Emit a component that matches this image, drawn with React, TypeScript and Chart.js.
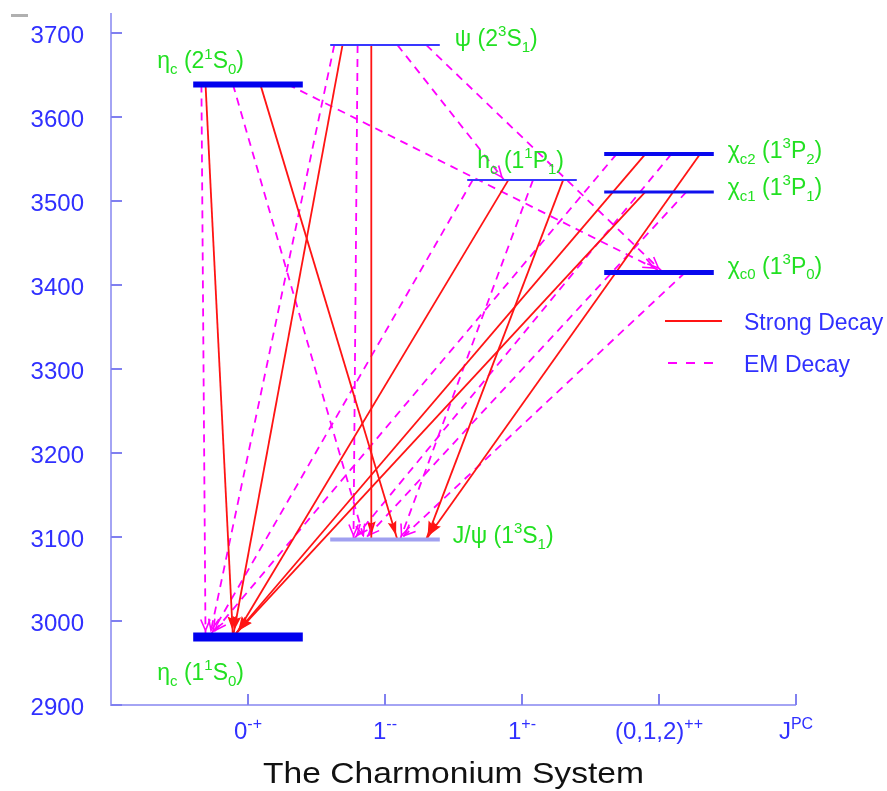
import React, { useEffect, useRef } from 'react';
import { Chart, registerables } from 'chart.js';

Chart.register(...registerables);

// ---------------- data ----------------
const levelLabels = [
  'η_{c} (1^{1}S_{0})',
  'J/ψ (1^{3}S_{1})',
  'χ_{c0} (1^{3}P_{0})',
  'χ_{c1} (1^{3}P_{1})',
  'h_{c} (1^{1}P_{1})',
  'χ_{c2} (1^{3}P_{2})',
  'η_{c} (2^{1}S_{0})',
  'ψ (2^{3}S_{1})',
];
const levelMass = [2981, 3097, 3415, 3511, 3525, 3556, 3639, 3686];
const levelJpc = [1, 2, 4, 4, 3, 4, 1, 2];

const jpcTickValues = [1, 2, 3, 4, 5];
const jpcTickLabels = ['0^{-+}', '1^{--}', '1^{+-}', '(0,1,2)^{++}', 'J^{PC}'];
const massTicks = [2900, 3000, 3100, 3200, 3300, 3400, 3500, 3600, 3700];
const massAxisMin = 2900;
const massAxisMax = 3724;
const jpcAxisMin = 0;
const jpcAxisMax = 5;

// strong decays (solid red): from level, x at start, to level, x at end
const strongFrom = [6, 6, 7, 7, 4, 4, 5, 3, 5];
const strongFromX = [0.69, 1.09, 1.69, 1.9, 2.9, 3.3, 3.9, 3.9, 4.3];
const strongTo = [0, 1, 0, 1, 0, 1, 0, 0, 1];
const strongToX = [0.89, 2.09, 0.89, 1.9, 0.9, 2.3, 0.89, 0.89, 2.3];

// EM decays (dashed magenta)
const emFrom = [6, 6, 6, 7, 7, 7, 7, 4, 4, 5, 5, 3, 2];
const emFromX = [0.66, 0.89, 1.29, 1.63, 1.8, 2.09, 2.3, 2.64, 3.08, 3.69, 4.09, 4.2, 4.19];
const emTo = [0, 1, 2, 0, 1, 4, 2, 0, 1, 0, 1, 1, 1];
const emToX = [0.69, 1.85, 4.03, 0.72, 1.77, 2.87, 4.03, 0.72, 2.11, 0.72, 1.77, 1.85, 2.11];

const legendLabels = ['Strong Decay', 'EM Decay'];
const titleText = 'The Charmonium System';

// ---------------- styles ----------------
const FONT = '"Liberation Sans", Arial, Helvetica, sans-serif';
const BLUE_TEXT = '#3030ff';
const GREEN = '#22e022';
const RED = '#ff1414';
const MAGENTA = '#ff00ff';
const DASH = [8, 6];
const levelHalfWidth = 0.4;
const levelColors = ['#0000ee', '#a0a0f0', '#0808ee', '#1010ee', '#3838ff', '#0808ee', '#0000ee', '#3838ff'];
const levelWidths = [9, 4, 5, 3, 2, 4, 6, 2];
// label anchor: side of level, dx, dy (px)
const labelAnchor: [string, number, number][] = [
  ['left', -36, 43],
  ['right', 13, 3],
  ['right', 14, 1],
  ['right', 14, 3],
  ['left', 10, -12],
  ['right', 14, 4],
  ['left', -36, -16],
  ['right', 15, 1],
];

type Part = { t: string; k: number };
function parseRich(s: string): Part[] {
  const out: Part[] = [];
  let i = 0;
  let buf = '';
  while (i < s.length) {
    const c = s[i];
    if ((c === '_' || c === '^') && s[i + 1] === '{') {
      if (buf) { out.push({ t: buf, k: 0 }); buf = ''; }
      const end = s.indexOf('}', i);
      out.push({ t: s.slice(i + 2, end), k: c === '^' ? 1 : -1 });
      i = end + 1;
    } else { buf += c; i++; }
  }
  if (buf) out.push({ t: buf, k: 0 });
  return out;
}

function drawRich(ctx: CanvasRenderingContext2D, s: string, x: number, y: number, size: number, align: string, color: string) {
  const parts = parseRich(s);
  const small = Math.round(size * 0.66);
  const widths = parts.map((p) => {
    ctx.font = `${p.k ? small : size}px ${FONT}`;
    return ctx.measureText(p.t).width;
  });
  const total = widths.reduce((a, b) => a + b, 0);
  let cx = align === 'center' ? x - total / 2 : x;
  ctx.fillStyle = color;
  ctx.textAlign = 'left';
  ctx.textBaseline = 'alphabetic';
  parts.forEach((p, i) => {
    ctx.font = `${p.k ? small : size}px ${FONT}`;
    const dy = p.k === 1 ? -size * 0.42 : p.k === -1 ? size * 0.26 : 0;
    ctx.fillText(p.t, cx, y + dy);
    cx += widths[i];
  });
}

const decorPlugin = {
  id: 'decor',
  beforeDatasetsDraw(chart: any) {
    const ctx: CanvasRenderingContext2D = chart.ctx;
    chart.data.datasets.forEach((ds: any, i: number) => {
      if (!ds.kind) return;
      const meta = chart.getDatasetMeta(i);
      const p0 = meta.data[0];
      const p1 = meta.data[1];
      const dx = p1.x - p0.x;
      const dy = p1.y - p0.y;
      const len = Math.hypot(dx, dy);
      const ux = dx / len;
      const uy = dy / len;
      const pull = (levelWidths[ds.toLevel] / 2 + 2) / Math.max(Math.abs(uy), 0.3);
      const tx = p1.x - ux * pull;
      const ty = p1.y - uy * pull;
      const ang = Math.atan2(uy, ux);
      ctx.save();
      if (ds.kind === 'strong') {
        const L = 15;
        const a = 0.3;
        ctx.fillStyle = RED;
        ctx.beginPath();
        ctx.moveTo(tx, ty);
        ctx.lineTo(tx - L * Math.cos(ang - a), ty - L * Math.sin(ang - a));
        ctx.lineTo(tx - L * 0.8 * Math.cos(ang), ty - L * 0.8 * Math.sin(ang));
        ctx.lineTo(tx - L * Math.cos(ang + a), ty - L * Math.sin(ang + a));
        ctx.closePath();
        ctx.fill();
      } else {
        const L = 12;
        const a = 0.4;
        ctx.strokeStyle = MAGENTA;
        ctx.lineWidth = 1.6;
        ctx.beginPath();
        ctx.moveTo(tx - L * Math.cos(ang - a), ty - L * Math.sin(ang - a));
        ctx.lineTo(tx, ty);
        ctx.lineTo(tx - L * Math.cos(ang + a), ty - L * Math.sin(ang + a));
        ctx.stroke();
      }
      ctx.restore();
    });
  },
  afterDraw(chart: any) {
    const ctx: CanvasRenderingContext2D = chart.ctx;
    const ca = chart.chartArea;
    const xs = chart.scales.x;
    const ys = chart.scales.y;
    ctx.save();
    // small grey mark top-left
    ctx.fillStyle = '#b0b0b0';
    ctx.fillRect(11, 14, 17, 3);
    // axes
    ctx.strokeStyle = '#a4a4f4';
    ctx.lineWidth = 2;
    ctx.beginPath();
    ctx.moveTo(ca.left, ca.top);
    ctx.lineTo(ca.left, ca.bottom);
    ctx.lineTo(ca.right, ca.bottom);
    ctx.stroke();
    ctx.strokeStyle = '#8080f0';
    ctx.beginPath();
    massTicks.forEach((v) => {
      const y = Math.round(ys.getPixelForValue(v));
      ctx.moveTo(ca.left, y);
      ctx.lineTo(ca.left + 11, y);
    });
    jpcTickValues.forEach((v) => {
      const x = Math.round(xs.getPixelForValue(v));
      ctx.moveTo(x, ca.bottom);
      ctx.lineTo(x, ca.bottom - 11);
    });
    ctx.stroke();
    // x tick labels
    jpcTickValues.forEach((v, i) => {
      drawRich(ctx, jpcTickLabels[i], xs.getPixelForValue(v), ca.bottom + 34, 24, 'center', BLUE_TEXT);
    });
    // level labels
    levelLabels.forEach((lab, i) => {
      const [side, dx, dy] = labelAnchor[i];
      const xv = side === 'left' ? levelJpc[i] - levelHalfWidth : levelJpc[i] + levelHalfWidth;
      const x = xs.getPixelForValue(xv) + dx;
      const y = ys.getPixelForValue(levelMass[i]) + dy;
      ctx.save();
      ctx.beginPath();
      ctx.rect(0, 0, 831, chart.height);
      ctx.clip();
      drawRich(ctx, lab, x, y, 23, 'left', GREEN);
      ctx.restore();
    });
    // legend
    const lx0 = ca.left + 554;
    const lx1 = ca.left + 611;
    const ly = [ca.top + 308, ca.top + 350];
    ctx.lineWidth = 1.8;
    ctx.strokeStyle = RED;
    ctx.beginPath();
    ctx.moveTo(lx0, ly[0]);
    ctx.lineTo(lx1, ly[0]);
    ctx.stroke();
    ctx.strokeStyle = MAGENTA;
    ctx.setLineDash([9, 9]);
    ctx.beginPath();
    ctx.moveTo(lx0 + 3, ly[1]);
    ctx.lineTo(lx1, ly[1]);
    ctx.stroke();
    ctx.setLineDash([]);
    ctx.fillStyle = BLUE_TEXT;
    ctx.font = `23px ${FONT}`;
    ctx.textAlign = 'left';
    ctx.textBaseline = 'alphabetic';
    legendLabels.forEach((t, i) => ctx.fillText(t, lx1 + 22, ly[i] + 9));
    // title
    ctx.fillStyle = '#111111';
    ctx.font = `30px ${FONT}`;
    ctx.textAlign = 'center';
    ctx.save();
    ctx.translate((ca.left + ca.right) / 2, ca.bottom + 78);
    ctx.scale(1.12, 1);
    ctx.fillText(titleText, 0, 0);
    ctx.restore();
    ctx.restore();
  },
};

function buildDatasets() {
  const ds: any[] = [];
  levelMass.forEach((m, i) => {
    ds.push({
      data: [
        { x: levelJpc[i] - levelHalfWidth, y: m },
        { x: levelJpc[i] + levelHalfWidth, y: m },
      ],
      showLine: true,
      borderColor: levelColors[i],
      borderWidth: levelWidths[i],
      borderCapStyle: 'butt',
      pointRadius: 0,
      order: 0,
    });
  });
  strongFrom.forEach((f, i) => {
    ds.push({
      data: [
        { x: strongFromX[i], y: levelMass[f] },
        { x: strongToX[i], y: levelMass[strongTo[i]] },
      ],
      showLine: true,
      borderColor: RED,
      borderWidth: 1.8,
      pointRadius: 0,
      order: 1,
      kind: 'strong',
      toLevel: strongTo[i],
    });
  });
  emFrom.forEach((f, i) => {
    ds.push({
      data: [
        { x: emFromX[i], y: levelMass[f] },
        { x: emToX[i], y: levelMass[emTo[i]] },
      ],
      showLine: true,
      borderColor: MAGENTA,
      borderWidth: 1.8,
      borderDash: DASH,
      pointRadius: 0,
      order: 2,
      kind: 'em',
      toLevel: emTo[i],
    });
  });
  return ds;
}

export default function App() {
  const ref = useRef<HTMLCanvasElement>(null);
  useEffect(() => {
    const chart = new Chart(ref.current as HTMLCanvasElement, {
      type: 'scatter',
      data: { datasets: buildDatasets() },
      options: {
        animation: false,
        responsive: false,
        devicePixelRatio: 1,
        events: [],
        layout: { padding: { top: 13, right: 91, left: 0, bottom: 0 } },
        plugins: {
          legend: { display: false },
          tooltip: { enabled: false },
          title: { display: false },
        },
        scales: {
          x: {
            type: 'linear',
            min: jpcAxisMin,
            max: jpcAxisMax,
            grid: { display: false, drawTicks: false },
            border: { display: false },
            ticks: { display: false },
            afterBuildTicks: (s: any) => { s.ticks = jpcTickValues.map((v) => ({ value: v })); },
            afterFit: (s: any) => { s.height = 86; s.paddingLeft = 0; s.paddingRight = 0; },
          },
          y: {
            type: 'linear',
            min: massAxisMin,
            max: massAxisMax,
            grid: { display: false, drawTicks: false },
            border: { display: false },
            ticks: {
              color: BLUE_TEXT,
              font: { family: FONT, size: 24 },
              padding: 27,
              labelOffset: 3,
              callback: (v: any) => String(v),
            },
            afterBuildTicks: (s: any) => { s.ticks = massTicks.map((v) => ({ value: v })); },
            afterFit: (s: any) => { s.width = 111; s.paddingTop = 0; s.paddingBottom = 0; },
          },
        },
      } as any,
      plugins: [decorPlugin],
    });
    return () => chart.destroy();
  }, []);
  return (
    <div style={{ position: 'absolute', left: 0, top: 0, width: 887, height: 791, background: '#ffffff' }}>
      <canvas ref={ref} width={887} height={791} style={{ display: 'block', width: 887, height: 791 }} />
    </div>
  );
}
